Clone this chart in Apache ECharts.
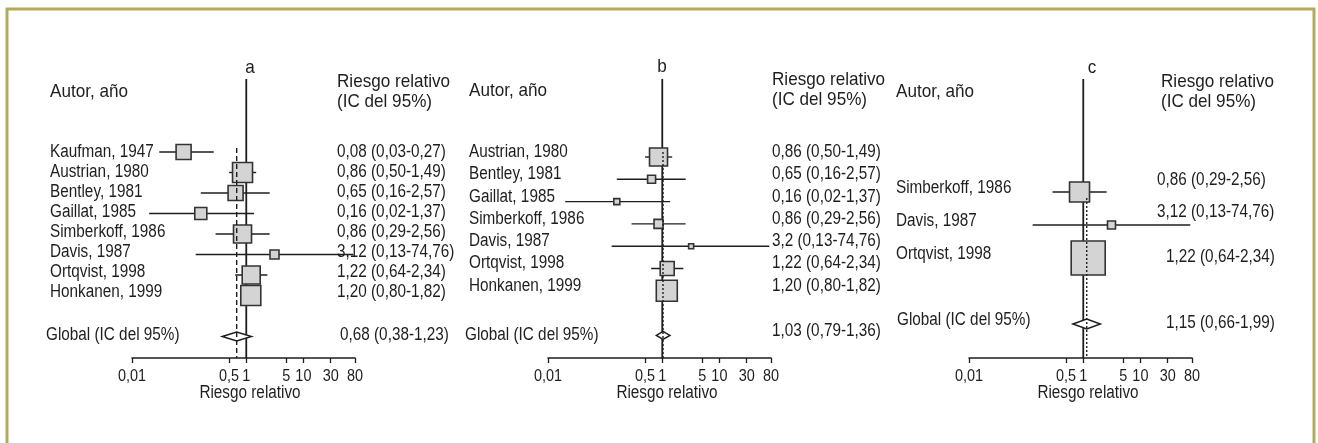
<!DOCTYPE html>
<html>
<head>
<meta charset="utf-8">
<script src="https://cdn.jsdelivr.net/npm/echarts@6/dist/echarts.min.js"></script>
<style>
html,body{margin:0;padding:0;background:#fff;}
#c{width:1318px;height:443px;}
</style>
</head>
<body>
<div id="c"></div>
<script>
// ---------------- DATA ----------------
const tickValues = [0.01, 0.5, 1, 5, 10, 30, 80];
const tickLabels = ['0,01', '0,5', '1', '5', '10', '30', '80'];

// Panel a
const studiesA = ['Kaufman, 1947', 'Austrian, 1980', 'Bentley, 1981', 'Gaillat, 1985', 'Simberkoff, 1986', 'Davis, 1987', 'Ortqvist, 1998', 'Honkanen, 1999'];
const rrA = [0.08, 0.86, 0.65, 0.16, 0.86, 3.12, 1.22, 1.20];
const loA = [0.03, 0.50, 0.16, 0.02, 0.29, 0.13, 0.64, 0.80];
const hiA = [0.27, 1.49, 2.57, 1.37, 2.56, 74.76, 2.34, 1.82];
const weightA = [15, 20, 15, 12, 18, 9, 18, 20];
const ciTextA = ['0,08 (0,03-0,27)', '0,86 (0,50-1,49)', '0,65 (0,16-2,57)', '0,16 (0,02-1,37)', '0,86 (0,29-2,56)', '3,12 (0,13-74,76)', '1,22 (0,64-2,34)', '1,20 (0,80-1,82)'];
const globalA = [0.68, 0.38, 1.23];
const globalTextA = '0,68 (0,38-1,23)';

// Panel b
const studiesB = ['Austrian, 1980', 'Bentley, 1981', 'Gaillat, 1985', 'Simberkoff, 1986', 'Davis, 1987', 'Ortqvist, 1998', 'Honkanen, 1999'];
const rrB = [0.86, 0.65, 0.16, 0.86, 3.2, 1.22, 1.20];
const loB = [0.50, 0.16, 0.02, 0.29, 0.13, 0.64, 0.80];
const hiB = [1.49, 2.57, 1.37, 2.56, 74.76, 2.34, 1.82];
const weightB = [18, 8, 6, 9, 5, 14, 21];
const ciTextB = ['0,86 (0,50-1,49)', '0,65 (0,16-2,57)', '0,16 (0,02-1,37)', '0,86 (0,29-2,56)', '3,2 (0,13-74,76)', '1,22 (0,64-2,34)', '1,20 (0,80-1,82)'];
const globalB = [1.03, 0.79, 1.36];
const globalTextB = '1,03 (0,79-1,36)';

// Panel c
const studiesC = ['Simberkoff, 1986', 'Davis, 1987', 'Ortqvist, 1998'];
const rrC = [0.86, 3.12, 1.22];
const loC = [0.29, 0.13, 0.64];
const hiC = [2.56, 74.76, 2.34];
const weightC = [20, 8, 34];
const ciTextC = ['0,86 (0,29-2,56)', '3,12 (0,13-74,76)', '1,22 (0,64-2,34)'];
const globalC = [1.15, 0.66, 1.99];
const globalTextC = '1,15 (0,66-1,99)';

const panelLetters = ['a', 'b', 'c'];
const headAuthor = 'Autor, año';
const headRR1 = 'Riesgo relativo';
const headRR2 = '(IC del 95%)';
const globalName = 'Global (IC del 95%)';
const axisName = 'Riesgo relativo';

// ---------------- STYLE / LAYOUT ----------------
const FONT = '"Liberation Sans", Arial, sans-serif';
const INK = '#1e1e1e';
const BOX_FILL = '#d4d4d4';
const GRID_TOP = 79, GRID_BOTTOM = 358, GRID_W = 223;
const NARROW = 0.85, HEAD_NARROW = 0.9;

const layouts = [
  { left: 132, letterX: 250, letterY: 68, headNameX: 50, headNameY: 92, headValX: 337, headValY: 82, axisNameX: 250,
    firstPx: 152, step: 20.5, globalRow: 9, dashTopPx: 148, dash: [5, 3], halfH: 4.5,
    nameX: 50, textFirst: 152, textStep: 20, valX: () => 337, valY: (i) => 152 + 20 * i,
    gNameX: 46, gNameY: 335, gValX: 340, gValY: 335 },
  { left: 548, letterX: 662, letterY: 67, headNameX: 469, headNameY: 91, headValX: 772, headValY: 80, axisNameX: 667,
    firstPx: 157, step: 22.3, globalRow: 8, dashTopPx: 152, dash: [2, 2], halfH: 4,
    nameX: 469, textFirst: 152, textStep: 22.3, valX: () => 772, valY: (i) => 152 + 22.3 * i,
    gNameX: 465, gNameY: 335, gValX: 772, gValY: 331 },
  { left: 969, letterX: 1092, letterY: 68, headNameX: 896, headNameY: 92, headValX: 1161, headValY: 82, axisNameX: 1088,
    firstPx: 192, step: 33, globalRow: 4, dashTopPx: 198, dash: [2, 2], halfH: 5,
    nameX: 896, textFirst: 188, textStep: 33, valX: (i) => [1157, 1157, 1166][i], valY: (i) => [180, 212, 257][i],
    gNameX: 897, gNameY: 320, gValX: 1166, gValY: 323 }
];
layouts.forEach(L => {
  L.yMin = (GRID_TOP - L.firstPx) / L.step;
  L.yMax = (GRID_BOTTOM - L.firstPx) / L.step;
  L.dashTop = (L.dashTopPx - L.firstPx) / L.step;
});

const panels = [
  { names: studiesA, rr: rrA, lo: loA, hi: hiA, w: weightA, ci: ciTextA, g: globalA, gText: globalTextA },
  { names: studiesB, rr: rrB, lo: loB, hi: hiB, w: weightB, ci: ciTextB, g: globalB, gText: globalTextB },
  { names: studiesC, rr: rrC, lo: loC, hi: hiC, w: weightC, ci: ciTextC, g: globalC, gText: globalTextC }
];

function txt(text, x, y, size, align, sx) {
  return { type: 'text', x: x, y: y, z2: 10, scaleX: sx || NARROW, silent: true,
    style: { text: text, fill: INK, fontSize: size, fontFamily: FONT, align: align || 'left', verticalAlign: 'middle' } };
}

function makeRender(P, L) {
  return function (params, api) {
    const i = params.dataIndex;
    const rr = api.value(0), lo = api.value(1), hi = api.value(2), row = api.value(3), w = api.value(4), isG = api.value(5);
    const c = api.coord([rr, row]);
    const a = api.coord([lo, row]);
    const b = api.coord([hi, row]);
    const ch = [];
    if (isG) {
      const t = api.coord([1, L.yMin]), bt = api.coord([1, L.yMax]);
      ch.push({ type: 'line', z2: 0, shape: { x1: t[0], y1: t[1], x2: bt[0], y2: bt[1] }, style: { stroke: INK, lineWidth: 1.8 } });
      const d0 = api.coord([rr, L.dashTop]), d1 = api.coord([rr, L.yMax]);
      ch.push({ type: 'line', z2: 6, shape: { x1: d0[0], y1: d0[1], x2: d1[0], y2: d1[1] }, style: { stroke: INK, lineWidth: 1.4, lineDash: L.dash } });
      const h = L.halfH;
      ch.push({ type: 'polygon', z2: 5, shape: { points: [[a[0], c[1]], [c[0], c[1] - h], [b[0], c[1]], [c[0], c[1] + h]] },
        style: { fill: '#fff', stroke: INK, lineWidth: 1.5 } });
      ch.push(txt(globalName, L.gNameX, L.gNameY, 18));
      ch.push(txt(P.gText, L.gValX, L.gValY, 18));
      // tick labels, placed through the axis scale
      tickValues.forEach((tv, j) => {
        const p = api.coord([tv, L.yMax]);
        ch.push(txt(tickLabels[j], p[0], GRID_BOTTOM + 18, 17, 'center'));
      });
    } else {
      ch.push({ type: 'line', z2: 1, shape: { x1: a[0], y1: a[1], x2: b[0], y2: b[1] }, style: { stroke: INK, lineWidth: 1.4 } });
      ch.push({ type: 'rect', z2: 3, shape: { x: c[0] - w / 2, y: c[1] - w / 2, width: w, height: w },
        style: { fill: BOX_FILL, stroke: '#333', lineWidth: 1.6 } });
      ch.push(txt(P.names[i], L.nameX, L.textFirst + L.textStep * i, 18));
      ch.push(txt(P.ci[i], L.valX(i), L.valY(i), 18));
    }
    return { type: 'group', children: ch };
  };
}

const grids = [], xAxes = [], yAxes = [], series = [], graphics = [];
graphics.push({ type: 'rect', silent: true, shape: { x: 7, y: 9, width: 1307, height: 460 },
  style: { fill: 'none', stroke: '#b2aa5e', lineWidth: 3 } });

panels.forEach((P, k) => {
  const L = layouts[k];
  grids.push({ left: L.left, top: GRID_TOP, width: GRID_W, height: GRID_BOTTOM - GRID_TOP });
  xAxes.push({
    type: 'log', logBase: 10, gridIndex: k, min: 0.01, max: 80,
    splitLine: { show: false },
    axisLine: { onZero: false, lineStyle: { color: INK, width: 1.5 } },
    axisTick: { show: true, length: 5, lineStyle: { color: INK, width: 1.3 }, customValues: tickValues },
    axisLabel: { show: false },
    minorTick: { show: false }
  });
  yAxes.push({ type: 'value', gridIndex: k, inverse: true, min: L.yMin, max: L.yMax, show: false });
  const data = P.rr.map((v, i) => [v, P.lo[i], P.hi[i], i, P.w[i], 0]);
  data.push([P.g[0], P.g[1], P.g[2], L.globalRow, 0, 1]);
  series.push({
    type: 'custom', xAxisIndex: k, yAxisIndex: k, clip: false, silent: true,
    encode: { x: [0, 1, 2], y: 3 },
    renderItem: makeRender(P, L), data: data
  });
  graphics.push(txt(panelLetters[k], L.letterX, L.letterY, 19, 'center', HEAD_NARROW));
  graphics.push(txt(headAuthor, L.headNameX, L.headNameY, 19, 'left', HEAD_NARROW));
  graphics.push(txt(headRR1, L.headValX, L.headValY, 19, 'left', HEAD_NARROW));
  graphics.push(txt(headRR2, L.headValX, L.headValY + 20, 19, 'left', HEAD_NARROW));
  graphics.push(txt(axisName, L.axisNameX, 393, 18, 'center'));
});

const chart = echarts.init(document.getElementById('c'));
chart.setOption({
  animation: false,
  backgroundColor: '#fff',
  grid: grids, xAxis: xAxes, yAxis: yAxes, series: series,
  graphic: graphics
});
</script>
</body>
</html>
